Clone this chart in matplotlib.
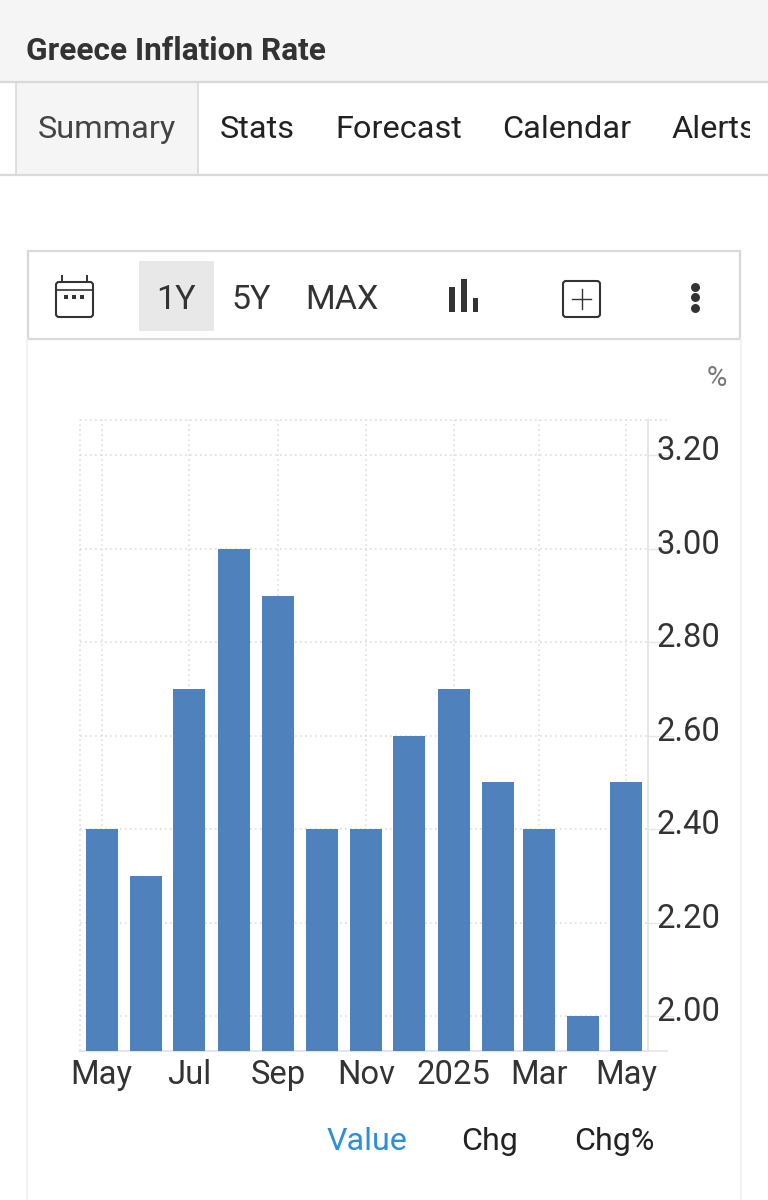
"""Greece inflation rate page: bar chart with the surrounding app chrome"""

import datetime as dt
import matplotlib
matplotlib.use("Agg")
import matplotlib.pyplot as plt
import matplotlib.dates as mdates
from matplotlib.patches import Rectangle, FancyBboxPatch
from matplotlib.transforms import ScaledTranslation

months = [dt.date(2024, m, 1) for m in range(5, 13)] + [dt.date(2025, m, 1) for m in range(1, 6)]
values = [2.4, 2.3, 2.7, 3.0, 2.9, 2.4, 2.4, 2.6, 2.7, 2.5, 2.4, 2.0, 2.5]
tick_months = [dt.date(2024, 5, 1), dt.date(2024, 7, 1), dt.date(2024, 9, 1), dt.date(2024, 11, 1),
               dt.date(2025, 1, 1), dt.date(2025, 3, 1), dt.date(2025, 5, 1)]
tick_labels = ["May", "Jul", "Sep", "Nov", "2025", "Mar", "May"]
y_ticks = [2.0, 2.2, 2.4, 2.6, 2.8, 3.0, 3.2]
tabs = ["Summary", "Stats", "Forecast", "Calendar", "Alerts"]
tab_x = [38, 220, 335, 502, 672]
ranges = ["1Y", "5Y", "MAX"]
range_x = [176, 251, 342]
legend_items = ["Value", "Chg", "Chg%"]
legend_x = [367, 490, 614]

W, H = 768, 1200
BAR = "#4f81bd"
DARK = "#333333"
LINE = "#d9d9d9"
GRID = "#dedede"

plt.rcParams["font.family"] = ["Roboto", "DejaVu Sans"]

fig = plt.figure(figsize=(W / 100, H / 100), dpi=100, facecolor="white")

# page furniture, in pixel coordinates
bg = fig.add_axes([0, 0, 1, 1])
bg.set_xlim(0, W)
bg.set_ylim(H, 0)
bg.axis("off")

bg.add_patch(Rectangle((0, 0), W, 81, fc="#f5f5f5", ec="none"))
bg.plot([0, W], [82, 82], color=LINE, lw=1.6)
bg.plot([0, W], [175, 175], color=LINE, lw=1.6)
bg.text(26, 51, "Greece Inflation Rate", fontsize=22.8, fontweight="bold", color=DARK, va="center")

bg.add_patch(Rectangle((16, 82), 182, 93, fc="#f5f5f5", ec=LINE, lw=1.2))
clip = Rectangle((0, 82), 750, 93, transform=bg.transData)
for i, (tab, x) in enumerate(zip(tabs, tab_x)):
    t = bg.text(x, 129, tab, fontsize=23.4, va="center", color="#444444" if i == 0 else "#222222")
    t.set_clip_on(True)
    t.set_clip_path(clip)

# toolbar box
bg.add_patch(Rectangle((28, 251), 712, 88, fc="white", ec=LINE, lw=1.6))
bg.add_patch(Rectangle((139, 261), 75, 70, fc="#e8e8e8", ec="none"))
for label, x in zip(ranges, range_x):
    bg.text(x, 300, label, fontsize=24.5, ha="center", va="center", color=DARK)

# calendar icon
bg.add_patch(FancyBboxPatch((56, 282), 37, 35, boxstyle="round,pad=0,rounding_size=3", fc="none", ec=DARK, lw=1.5))
bg.plot([56, 93], [290, 290], color=DARK, lw=1.2)
bg.plot([62, 62], [276, 282], color=DARK, lw=1.4)
bg.plot([87, 87], [276, 282], color=DARK, lw=1.4)
bg.scatter([66, 74, 82], [297, 297, 297], s=6, marker="s", color=DARK, linewidths=0)

# bar type icon
bg.add_patch(Rectangle((449, 287), 6, 25, fc=DARK, ec="none"))
bg.add_patch(Rectangle((461, 279), 6, 33, fc=DARK, ec="none"))
bg.add_patch(Rectangle((473, 298), 5, 14, fc=DARK, ec="none"))

# plus icon
bg.add_patch(FancyBboxPatch((563, 281), 37, 36, boxstyle="round,pad=0,rounding_size=3", fc="none", ec=DARK, lw=1.5))
bg.plot([581.5, 581.5], [289, 309], color=DARK, lw=1.0)
bg.plot([572, 591], [299, 299], color=DARK, lw=1.0)

# menu dots
bg.scatter([695, 695, 695], [287, 297, 308], s=42, color=DARK, linewidths=0)

# card edges below the toolbar
bg.plot([27, 27], [339, H], color="#f0f0f0", lw=1.2)
bg.plot([741, 741], [339, H], color="#f0f0f0", lw=1.2)

bg.text(717, 379, "%", fontsize=20, color="#777777", ha="center", va="center")

for label, x in zip(legend_items, legend_x):
    bg.text(x, 1142, label, fontsize=23.2, ha="center", va="center",
            color="#2b8fdc" if label == "Value" else "#222222")

# chart: plot area spans x 80-648, y 420-1051 px
ax = fig.add_axes([80 / W, 1 - 1051 / H, 568 / W, 631 / H])
ax.patch.set_alpha(0)
ax.bar(months, values, width=22.3, color=BAR, zorder=3)
ax.set_xlim(dt.date(2024, 4, 16), dt.date(2025, 5, 16))
ax.set_ylim(1.925, 3.276)

ax.set_xticks([mdates.date2num(d) for d in tick_months])
ax.set_xticklabels(tick_labels)
ax.set_yticks(y_ticks)
ax.set_yticklabels([f"{v:.2f}" for v in y_ticks])
ax.yaxis.tick_right()
ax.tick_params(axis="x", length=0, pad=6, labelsize=23.6, labelcolor=DARK)
ax.tick_params(axis="y", length=18, width=1, color="#e6e6e6", pad=-12, labelsize=23.6, labelcolor=DARK)
# value labels sit a little above their gridlines
lift = ScaledTranslation(0, 7.5 / 100, fig.dpi_scale_trans)
for lbl in ax.get_yticklabels():
    lbl.set_transform(lbl.get_transform() + lift)

ax.grid(True, color=GRID, linestyle=(0, (1, 2)), lw=1.2, zorder=1)
ax.set_axisbelow(True)
for side in ["left", "top"]:
    ax.spines[side].set_visible(False)
ax.spines["right"].set_color("#e6e6e6")
ax.spines["right"].set_linewidth(1.4)
ax.spines["bottom"].set_color("#e3e6f0")
ax.spines["bottom"].set_linewidth(1.6)
ax.plot([0, 0], [0, 1], transform=ax.transAxes, color=GRID, linestyle=(0, (1, 2)), lw=1.2, clip_on=False)
ax.plot([0, 1.033], [1, 1], transform=ax.transAxes, color=GRID, linestyle=(0, (1, 2)), lw=1.2, clip_on=False)
ax.plot([1, 1.033], [0, 0], transform=ax.transAxes, color="#e6e6e6", lw=1.2, clip_on=False)

fig.savefig("out.png", dpi=100)
